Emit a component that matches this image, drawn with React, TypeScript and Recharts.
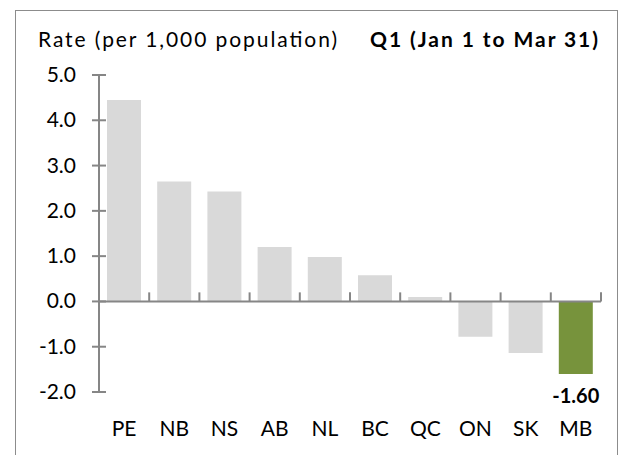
import React from "react";
import { BarChart, Bar, Cell, XAxis, YAxis, ReferenceLine, LabelList } from "recharts";

const provinces = ["PE", "NB", "NS", "AB", "NL", "BC", "QC", "ON", "SK", "MB"];
const rates = [4.45, 2.65, 2.43, 1.2, 0.98, 0.58, 0.1, -0.78, -1.14, -1.6];
const highlight = ["MB"];
const yTicks = [-2, -1, 0, 1, 2, 3, 4, 5];

const data = provinces.map((p, i) => ({ name: p, rate: rates[i] }));

const FONT = "Lato, 'Open Sans', sans-serif";
const AXIS = "#868686";

function YTick(props: any) {
  const { x, y, payload } = props;
  return (
    <g>
      <line x1={x - 7} x2={x + 7} y1={y} y2={y} stroke={AXIS} strokeWidth={2} />
      <text x={x - 23} y={y} dy={7} textAnchor="end" fontSize={21} fill="#000" fontFamily={FONT}>
        {payload.value.toFixed(1)}
      </text>
    </g>
  );
}

function MbLabel(props: any) {
  const { x, y, width, height, index } = props;
  if (!highlight.includes(provinces[index])) return null;
  const bottom = Math.max(y, y + height);
  return (
    <text x={x + width / 2} y={bottom + 29} textAnchor="middle" fontSize={20} fontWeight="bold" fill="#000" fontFamily={FONT}>
      {rates[index].toFixed(2)}
    </text>
  );
}

export default function App() {
  return (
    <div style={{ position: "absolute", left: 0, top: 0, width: 618, height: 455, background: "#fff", overflow: "hidden" }}>
      <div style={{ position: "absolute", left: 15, top: 10, width: 601, height: 470, border: "1.5px solid #8c8c8c" }} />
      <svg width={618} height={60} style={{ position: "absolute", left: 0, top: 0 }}>
        <text x={38} y={47} fontSize={21} fontFamily={FONT} fill="#000" textLength={299} lengthAdjust="spacing">
          Rate (per 1,000 population)
        </text>
        <text x={370} y={47} fontSize={21} fontWeight="bold" fontFamily={FONT} fill="#000" textLength={228} lengthAdjust="spacing">
          Q1 (Jan 1 to Mar 31)
        </text>
      </svg>
      <div style={{ position: "absolute", left: 0, top: 0 }}>
        <BarChart width={618} height={455} data={data} margin={{ top: 75, right: 17, bottom: 0, left: 0 }}>
          <YAxis
            width={99}
            domain={[-2, 5]}
            ticks={yTicks}
            interval={0}
            axisLine={{ stroke: AXIS, strokeWidth: 2 }}
            tickLine={false}
            tickSize={0}
            tickMargin={0}
            tick={<YTick />}
          />
          <XAxis
            dataKey="name"
            height={63}
            axisLine={false}
            tickLine={false}
            tickMargin={23}
            tick={{ fontSize: 21, fill: "#000", fontFamily: FONT }}
            interval={0}
          />
          <ReferenceLine y={0} stroke={AXIS} strokeWidth={2} />
          {provinces.map((p) => (
            <ReferenceLine
              key={p}
              segment={[{ x: p, y: 0 }, { x: p, y: 0.2 }]}
              position="start"
              stroke={AXIS}
              strokeWidth={2}
            />
          ))}
          <ReferenceLine
            segment={[{ x: "MB", y: 0 }, { x: "MB", y: 0.2 }]}
            position="end"
            stroke={AXIS}
            strokeWidth={2}
          />
          <Bar dataKey="rate" barSize={34} isAnimationActive={false}>
            {data.map((d) => (
              <Cell key={d.name} fill={highlight.includes(d.name) ? "#77933c" : "#d9d9d9"} />
            ))}
            <LabelList dataKey="rate" content={<MbLabel />} />
          </Bar>
        </BarChart>
      </div>
    </div>
  );
}
